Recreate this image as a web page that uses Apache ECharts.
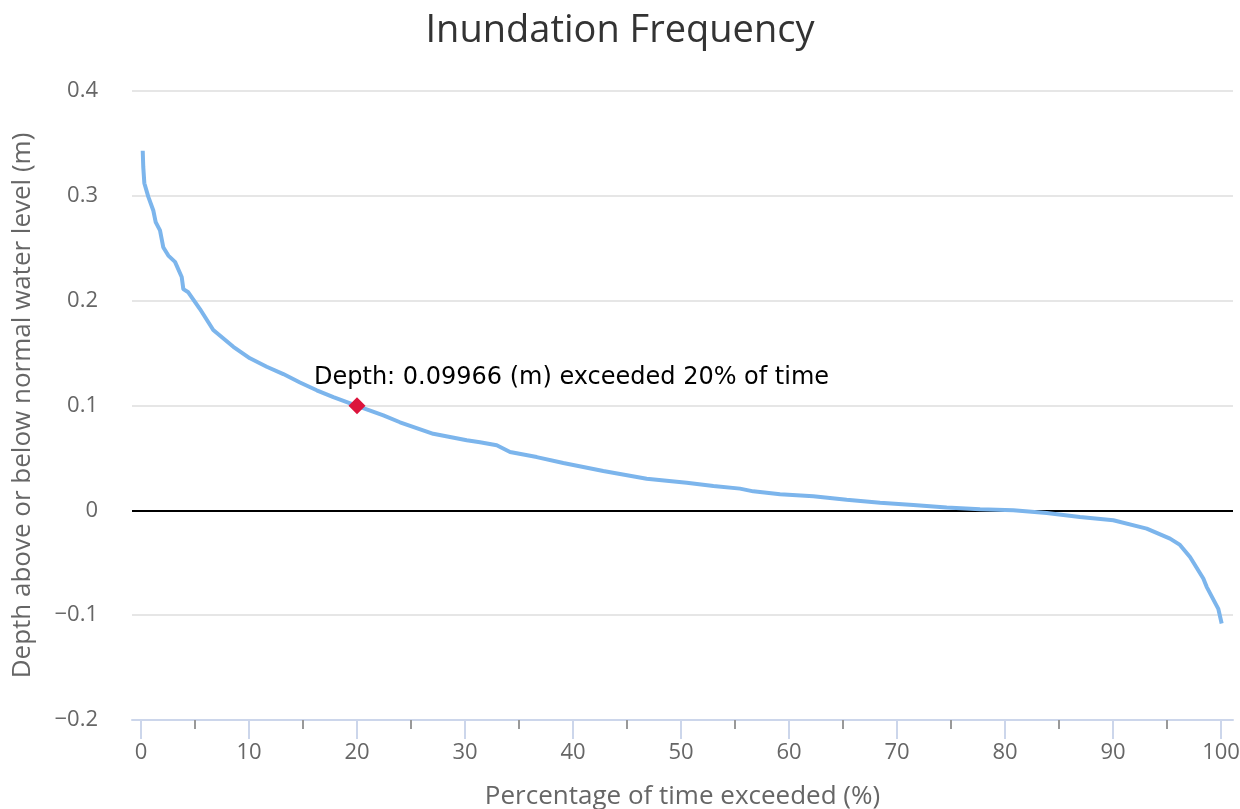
<!DOCTYPE html>
<html>
<head>
    <meta charset="utf-8">
    <script src="https://cdn.jsdelivr.net/npm/echarts@6.0.0/dist/echarts.min.js"></script>
</head>
<body style="margin:0">
    <title>Inundation Frequency</title>
    <div id="chart" style="width:1240px;height:809px"></div>
<script>
// percentage of time exceeded (x) and depth in m (y)
const pctExceeded = [0.16, 0.21, 0.31, 0.68, 1.14, 1.36, 1.76, 2.06, 2.53, 3.15, 3.77, 3.92, 4.38, 5.46,
    6.69, 8.55, 10.09, 11.64, 13.18, 14.72, 16.27, 17.81, 20, 22.44, 23.98, 27.06, 30.16, 31.39, 32.94,
    34.17, 36.64, 39.1, 42.8, 46.82, 50.53, 53, 55.46, 56.69, 59.17, 62.25, 65.34, 68.43, 71.51, 74.6,
    77.69, 80.77, 83.86, 86.94, 90.03, 93.12, 95.28, 96.2, 97.13, 98.36, 98.67, 99.75, 100.06];
const depth = [0.343, 0.3275, 0.312, 0.299, 0.286, 0.275, 0.267, 0.251, 0.243, 0.237, 0.2226, 0.211, 0.208, 0.192,
    0.172, 0.156, 0.145, 0.137, 0.130, 0.122, 0.1145, 0.108, 0.09966, 0.0906, 0.084, 0.073, 0.0668, 0.065, 0.062,
    0.0556, 0.0508, 0.0451, 0.0375, 0.0302, 0.0264, 0.0232, 0.0207, 0.0181, 0.0153, 0.0134, 0.0102, 0.0073, 0.0051, 0.0026,
    0.001, 0, -0.0026, -0.0064, -0.0095, -0.0174, -0.027, -0.033, -0.0445, -0.065, -0.073, -0.094, -0.108];

// highlighted point
const markerPct = [20];
const markerDepth = [0.09966];

const xLabelValues = [0, 10, 20, 30, 40, 50, 60, 70, 80, 90, 100];
const xMinorValues = [5, 15, 25, 35, 45, 55, 65, 75, 85, 95];

const FONT = '"Open Sans", "DejaVu Sans", sans-serif';

var curve = pctExceeded.map(function (p, i) { return [p, depth[i]]; });
var marker = markerPct.map(function (p, i) { return [p, markerDepth[i]]; });

var option = {
    backgroundColor: '#ffffff',
    animation: false,
    title: {
        text: 'Inundation Frequency',
        left: 'center',
        top: 7,
        textStyle: { fontFamily: FONT, fontSize: 38, fontWeight: 'normal', color: '#333333' }
    },
    grid: { left: 132, right: 7, top: 91, bottom: 89, outerBoundsMode: 'none' },
    xAxis: [{
        type: 'value',
        min: -0.833,
        max: 101.11,
        name: 'Percentage of time exceeded (%)',
        nameLocation: 'middle',
        nameGap: 64,
        nameTextStyle: { fontFamily: FONT, fontSize: 26, color: '#666666' },
        axisLine: { show: true, onZero: false, lineStyle: { color: '#ccd6eb', width: 2 } },
        axisTick: { show: true, customValues: xLabelValues, length: 19, lineStyle: { color: '#ccd6eb', width: 2 } },
        axisLabel: { customValues: xLabelValues, margin: 22, fontFamily: FONT, fontSize: 22, color: '#666666' },
        splitLine: { show: false }
    }, {
        type: 'value',
        min: -0.833,
        max: 101.11,
        position: 'bottom',
        axisLine: { show: false, onZero: false },
        axisTick: { show: true, customValues: xMinorValues, length: 9, lineStyle: { color: '#999999', width: 2 } },
        axisLabel: { show: false },
        splitLine: { show: false }
    }],
    yAxis: {
        type: 'value',
        min: -0.2,
        max: 0.4,
        interval: 0.1,
        name: 'Depth above or below normal water level (m)',
        nameLocation: 'middle',
        nameGap: 96,
        nameTextStyle: { fontFamily: FONT, fontSize: 26, color: '#666666' },
        axisLine: { show: false },
        axisTick: { show: false },
        axisLabel: {
            margin: 34,
            fontFamily: FONT,
            fontSize: 22,
            color: '#666666',
            formatter: function (v) {
                var s = String(Math.round(Math.abs(v) * 10) / 10);
                return v < -1e-9 ? '\u2212' + s : s;
            }
        },
        splitLine: { lineStyle: { color: '#e6e6e6', width: 2 } }
    },
    series: [{
        name: 'Depth',
        type: 'line',
        data: curve,
        showSymbol: false,
        lineStyle: { color: '#7cb5ec', width: 4 },
        itemStyle: { color: '#7cb5ec' },
        z: 3,
        markLine: {
            silent: true,
            symbol: 'none',
            label: { show: false },
            lineStyle: { color: '#000000', width: 2, type: 'solid' },
            data: [{ yAxis: 0 }],
            z: 2
        }
    }, {
        name: 'Marker',
        type: 'scatter',
        data: marker,
        symbol: 'diamond',
        symbolSize: 17,
        itemStyle: { color: '#dc143c', opacity: 1 },
        z: 5,
        label: {
            show: true,
            position: 'top',
            align: 'left',
            offset: [-43, -3],
            fontFamily: '"DejaVu Sans", sans-serif',
            fontSize: 24,
            color: '#000000',
            formatter: function (p) {
                return 'Depth: ' + p.value[1] + ' (m) exceeded ' + p.value[0] + '% of time';
            }
        }
    }]
};

var myChart = echarts.init(document.getElementById('chart'));
myChart.setOption(option);
window.addEventListener('resize', function () { myChart.resize(); });
</script>
</body>
</html>
